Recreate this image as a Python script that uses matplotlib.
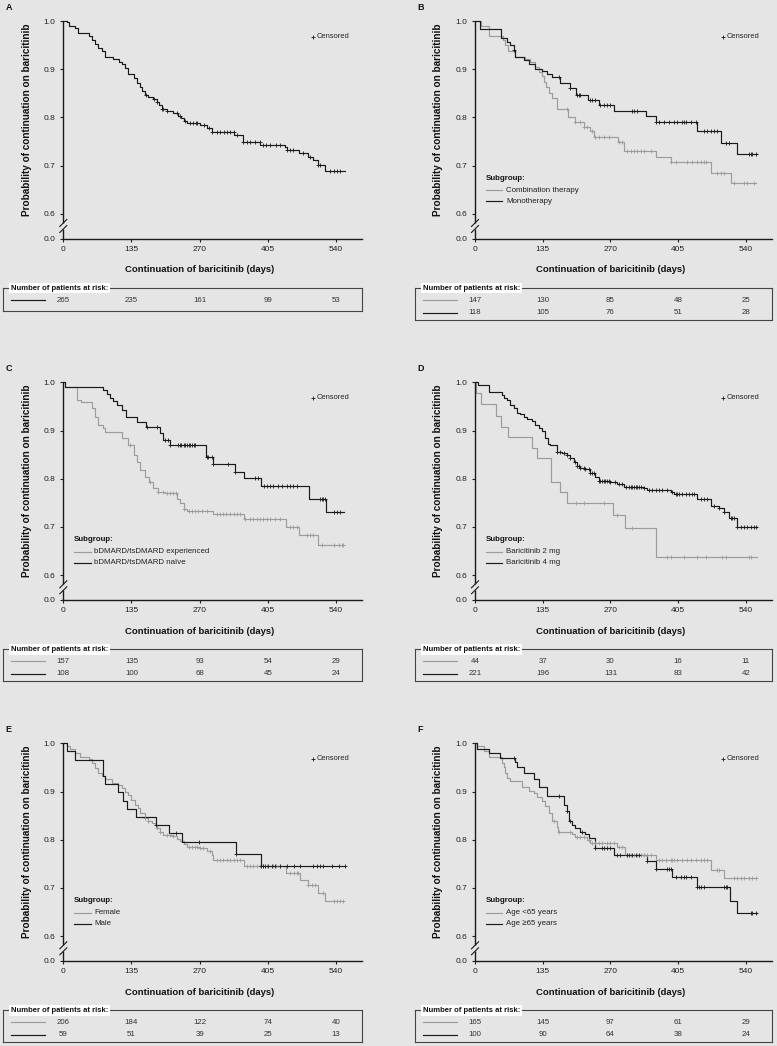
import numpy as np
import matplotlib
matplotlib.use('Agg')
import matplotlib.pyplot as plt
from matplotlib.transforms import blended_transform_factory as blend

plt.rcParams['font.family'] = ['Liberation Sans', 'DejaVu Sans']

# ---------------- data ----------------
xticks = [0, 135, 270, 405, 540]
ytick_vals = [0.6, 0.7, 0.8, 0.9, 1.0]
ytick_labels = ['0.0', '0.6', '0.7', '0.8', '0.9', '1.0']

# Panel A: overall
a_t = [0, 8, 12, 23, 30, 50, 56, 63, 69, 76, 83, 98, 111, 116, 122, 129, 140, 145, 151, 155,
       162, 168, 178, 185, 190, 195, 205, 218, 228, 234, 239, 244, 271, 284, 295, 338, 356, 390,
       439, 442, 467, 485, 495, 505, 518]
a_s = [1.0, 0.997, 0.990, 0.985, 0.975, 0.968, 0.961, 0.952, 0.943, 0.937, 0.925, 0.921, 0.916,
       0.910, 0.902, 0.890, 0.881, 0.871, 0.864, 0.855, 0.847, 0.843, 0.839, 0.832, 0.825, 0.818,
       0.814, 0.809, 0.804, 0.799, 0.793, 0.788, 0.785, 0.779, 0.769, 0.764, 0.750, 0.743, 0.738,
       0.733, 0.726, 0.717, 0.712, 0.702, 0.690]
a_end = 558
a_cens = [164, 180, 185, 195, 198, 205, 225, 232, 240, 250, 256, 262, 265, 278, 288, 295, 305,
          311, 318, 324, 330, 337, 343, 356, 363, 369, 379, 389, 396, 402, 409, 422, 429, 442,
          448, 455, 475, 488, 505, 508, 528, 535, 541, 548]
a_risk = [265, 235, 161, 99, 53]

# Panel B: combination therapy (grey) / monotherapy (black)
b_comb_t = [0, 12, 27, 55, 60, 65, 80, 100, 110, 120, 127, 133, 138, 142, 147, 153, 163, 185,
            200, 217, 230, 238, 285, 297, 360, 390, 470, 510]
b_comb_s = [1.0, 0.990, 0.968, 0.961, 0.950, 0.937, 0.926, 0.921, 0.916, 0.905, 0.895, 0.885,
            0.874, 0.864, 0.850, 0.840, 0.818, 0.800, 0.791, 0.781, 0.771, 0.760, 0.749, 0.731,
            0.717, 0.707, 0.685, 0.664]
b_comb_end = 560
b_comb_cens = [183, 200, 210, 217, 223, 233, 240, 247, 257, 267, 287, 293, 303, 310, 317, 323,
               330, 337, 350, 390, 400, 423, 433, 443, 450, 457, 460, 483, 490, 497, 517, 537,
               543, 557]
b_mono_t = [0, 10, 51, 63, 70, 77, 80, 97, 107, 120, 133, 143, 153, 170, 190, 202, 225, 247,
            277, 340, 360, 443, 490, 523]
b_mono_s = [1.0, 0.983, 0.965, 0.957, 0.950, 0.940, 0.926, 0.919, 0.910, 0.901, 0.896, 0.890,
            0.883, 0.871, 0.862, 0.847, 0.836, 0.826, 0.814, 0.803, 0.791, 0.771, 0.748, 0.724]
b_mono_end = 562
b_mono_cens = [77, 167, 190, 203, 207, 210, 229, 233, 240, 250, 257, 263, 270, 313, 317, 323,
               360, 367, 377, 387, 397, 403, 413, 417, 420, 430, 440, 457, 463, 470, 477, 483,
               500, 507, 547, 550, 553, 560]
b_labels = ['Combination therapy', 'Monotherapy']
b_risk_comb = [147, 130, 85, 48, 25]
b_risk_mono = [118, 105, 76, 51, 28]

# Panel C: bDMARD/tsDMARD experienced (grey) / naive (black)
c_exp_t = [0, 3, 27, 36, 56, 63, 69, 79, 83, 116, 129, 139, 145, 152, 162, 170, 178, 188, 202,
           225, 231, 238, 244, 297, 357, 441, 467, 505]
c_exp_s = [1.0, 0.990, 0.963, 0.960, 0.946, 0.929, 0.911, 0.905, 0.896, 0.884, 0.870, 0.849,
           0.835, 0.818, 0.804, 0.794, 0.780, 0.773, 0.770, 0.759, 0.749, 0.738, 0.733, 0.726,
           0.716, 0.700, 0.683, 0.662]
c_exp_end = 556
c_exp_cens = [132, 172, 188, 198, 205, 211, 218, 224, 238, 248, 254, 261, 267, 274, 284, 304,
              310, 317, 323, 330, 337, 343, 350, 360, 370, 376, 383, 390, 396, 403, 409, 419,
              429, 449, 455, 462, 482, 488, 495, 512, 535, 545, 551, 554]
c_nai_t = [0, 3, 79, 86, 92, 99, 106, 116, 125, 145, 164, 191, 198, 211, 283, 297, 340, 358,
           391, 487, 520]
c_nai_s = [1.0, 0.990, 0.984, 0.975, 0.968, 0.961, 0.953, 0.943, 0.929, 0.918, 0.908, 0.894,
           0.880, 0.870, 0.846, 0.830, 0.815, 0.801, 0.785, 0.759, 0.731]
c_nai_end = 556
c_nai_cens = [165, 185, 201, 208, 211, 228, 231, 234, 238, 241, 244, 248, 251, 254, 258, 261,
              284, 287, 294, 297, 327, 340, 380, 386, 397, 403, 409, 416, 426, 434, 442, 449,
              455, 463, 508, 512, 515, 518, 535, 541, 548]
c_labels = ['bDMARD/tsDMARD experienced', 'bDMARD/tsDMARD na\u00efve']
c_risk_exp = [157, 135, 93, 54, 29]
c_risk_nai = [108, 100, 68, 45, 24]

# Panel D: baricitinib 2 mg (grey) / 4 mg (black)
d_2_t = [0, 2, 11, 42, 51, 65, 113, 123, 152, 169, 183, 275, 298, 360]
d_2_s = [1.0, 0.977, 0.954, 0.931, 0.908, 0.886, 0.864, 0.842, 0.794, 0.773, 0.750, 0.725,
         0.698, 0.637]
d_2_end = 562
d_2_cens = [202, 217, 257, 283, 313, 383, 390, 417, 443, 460, 493, 500, 547, 550]
d_4_t = [0, 5, 27, 53, 57, 63, 70, 77, 83, 90, 97, 103, 113, 120, 127, 133, 140, 145, 150, 163,
         173, 183, 190, 197, 203, 210, 220, 230, 240, 247, 270, 283, 297, 337, 343, 390, 397,
         443, 450, 470, 487, 497, 507, 523]
d_4_s = [1.0, 0.995, 0.979, 0.974, 0.968, 0.963, 0.953, 0.946, 0.936, 0.934, 0.929, 0.923,
         0.920, 0.911, 0.905, 0.898, 0.884, 0.873, 0.869, 0.856, 0.853, 0.849, 0.842, 0.834,
         0.827, 0.823, 0.820, 0.811, 0.804, 0.795, 0.794, 0.790, 0.783, 0.781, 0.776, 0.773,
         0.769, 0.759, 0.757, 0.743, 0.740, 0.732, 0.718, 0.700]
d_4_end = 562
d_4_cens = [163, 170, 177, 183, 190, 200, 203, 207, 210, 217, 220, 227, 230, 233, 237, 247, 250,
            253, 257, 260, 263, 267, 270, 280, 287, 293, 300, 307, 310, 313, 317, 320, 323, 327,
            330, 337, 347, 353, 360, 367, 373, 383, 393, 400, 403, 407, 413, 420, 427, 433, 437,
            450, 457, 463, 477, 487, 497, 510, 513, 517, 523, 530, 537, 543, 550, 557, 560]
d_labels = ['Baricitinib 2 mg', 'Baricitinib 4 mg']
d_risk_2 = [44, 37, 30, 16, 11]
d_risk_4 = [221, 196, 131, 83, 42]

# Panel E: female (grey) / male (black)
e_f_t = [0, 7, 13, 23, 33, 50, 56, 63, 69, 76, 83, 96, 109, 116, 122, 129, 135, 142, 147, 152,
         162, 168, 175, 182, 185, 192, 198, 215, 225, 231, 238, 244, 271, 284, 294, 297, 358,
         441, 469, 485, 505, 518]
e_f_s = [1.0, 0.994, 0.989, 0.980, 0.971, 0.968, 0.959, 0.949, 0.938, 0.932, 0.925, 0.918,
         0.914, 0.907, 0.900, 0.892, 0.883, 0.873, 0.866, 0.855, 0.845, 0.839, 0.835, 0.830,
         0.824, 0.817, 0.809, 0.807, 0.802, 0.797, 0.791, 0.786, 0.783, 0.776, 0.768, 0.759,
         0.745, 0.731, 0.717, 0.707, 0.689, 0.672]
e_f_end = 554
e_f_cens = [162, 168, 185, 192, 205, 211, 218, 248, 254, 261, 264, 271, 277, 291, 304, 310, 317,
            324, 330, 337, 343, 350, 363, 370, 376, 383, 390, 396, 403, 416, 422, 429, 449, 456,
            462, 465, 485, 492, 498, 515, 535, 541, 548, 554]
e_m_t = [0, 7, 24, 79, 83, 108, 118, 126, 144, 184, 210, 236, 341, 391]
e_m_s = [1.0, 0.983, 0.966, 0.932, 0.915, 0.898, 0.881, 0.864, 0.847, 0.830, 0.813, 0.795,
         0.771, 0.745]
e_m_end = 558
e_m_cens = [184, 223, 269, 342, 392, 396, 400, 406, 413, 419, 429, 442, 456, 469, 495, 502, 509,
            515, 532, 545, 558]
e_labels = ['Female', 'Male']
e_risk_f = [206, 184, 122, 74, 40]
e_risk_m = [59, 51, 39, 25, 13]

# Panel F: age <65 (grey) / >=65 (black)
f_y_t = [0, 3, 17, 27, 53, 57, 60, 63, 69, 93, 107, 117, 123, 133, 140, 147, 153, 163, 165, 193,
         200, 223, 230, 283, 298, 360, 470, 497]
f_y_s = [1.0, 0.994, 0.983, 0.971, 0.959, 0.951, 0.939, 0.929, 0.921, 0.909, 0.902, 0.897,
         0.888, 0.880, 0.871, 0.855, 0.838, 0.826, 0.817, 0.811, 0.805, 0.800, 0.793, 0.786,
         0.769, 0.757, 0.738, 0.720]
f_y_end = 560
f_y_cens = [157, 167, 190, 203, 210, 217, 227, 233, 240, 247, 253, 263, 270, 277, 287, 293, 303,
            310, 317, 323, 330, 337, 343, 350, 367, 373, 380, 390, 393, 397, 403, 413, 423, 430,
            440, 450, 457, 463, 483, 487, 517, 523, 530, 537, 547, 553, 560]
f_o_t = [0, 3, 27, 49, 80, 83, 97, 117, 127, 143, 177, 183, 187, 193, 200, 210, 220, 227, 240,
         277, 342, 360, 393, 443, 509, 523]
f_o_s = [1.0, 0.989, 0.980, 0.969, 0.961, 0.950, 0.939, 0.927, 0.909, 0.890, 0.873, 0.859,
         0.838, 0.830, 0.824, 0.816, 0.811, 0.804, 0.783, 0.769, 0.755, 0.739, 0.722, 0.701,
         0.673, 0.648]
f_o_end = 563
f_o_cens = [77, 167, 183, 190, 213, 240, 253, 257, 263, 270, 283, 290, 303, 307, 313, 320, 327,
            342, 360, 383, 387, 390, 400, 410, 417, 420, 430, 443, 447, 450, 457, 497, 500, 503,
            550, 553, 560]
f_labels = ['Age <65 years', 'Age \u226565 years']
f_risk_y = [165, 145, 97, 61, 29]
f_risk_o = [100, 90, 64, 38, 24]

# ---------------- styling ----------------
FW, FH = 777, 1046
BG = '#e5e5e5'
GREY = '#9c9c9c'
BLACK = '#1a1a1a'
XMAX = 592
Y0 = 0.549
AX_H = 217.5

fig = plt.figure(figsize=(FW / 100, FH / 100), dpi=100)
fig.patch.set_facecolor(BG)


def draw_km(ax, t, s, end, cens, color):
    tt = list(t) + [end]
    ss = list(s) + [s[-1]]
    ax.step(tt, ss, where='post', color=color, lw=0.85, clip_on=False, zorder=3)
    idx = np.searchsorted(np.asarray(t), np.asarray(cens), side='right') - 1
    cy = np.asarray(s)[idx]
    ax.plot(cens, cy, ls='none', marker='+', ms=3.0, mew=0.6, color=color,
            clip_on=False, zorder=4)


def make_panel(letter, left, top, width, series, legend_labels, risk_rows):
    ax = fig.add_axes([left / FW, 1 - (top + AX_H) / FH, width / FW, AX_H / FH])
    ax.set_facecolor('none')
    ax.set_xlim(0, XMAX)
    ax.set_ylim(Y0, 1.0)
    ax.set_xticks(xticks)
    ax.set_xticklabels([str(v) for v in xticks])
    ax.set_yticks([Y0] + ytick_vals)
    ax.set_yticklabels(ytick_labels)
    for sp in ['top', 'right', 'left']:
        ax.spines[sp].set_visible(False)
    ax.spines['bottom'].set_linewidth(1.0)
    ax.spines['bottom'].set_color(BLACK)
    ax.tick_params(direction='out', length=2.5, width=0.8, labelsize=6, pad=3,
                   colors='#222222')

    # broken left axis
    px_y = (1.0 - Y0) / AX_H
    yb = Y0 + 12.5 * px_y
    gap = 3.0 * px_y
    ax.plot([0, 0], [1.0, yb + gap], color=BLACK, lw=1.0, clip_on=False, zorder=5,
            solid_capstyle='butt')
    ax.plot([0, 0], [yb - gap, Y0], color=BLACK, lw=1.0, clip_on=False, zorder=5,
            solid_capstyle='butt')
    tr_pts = blend(ax.transAxes, ax.transData)
    px_x = 1.0 / width
    for dy in (-gap, gap):
        ax.plot([-3.5 * px_x, 3.5 * px_x], [yb + dy - 3.5 * px_y, yb + dy + 3.5 * px_y],
                transform=tr_pts, color=BLACK, lw=0.8, clip_on=False, zorder=6)

    for (t, s, end, cens, color) in series:
        draw_km(ax, t, s, end, cens, color)

    # axis labels
    ax.text(-36.6 / width, 0.795, 'Probability of continuation on baricitinib',
            transform=tr_pts, rotation=90, ha='center', va='center', fontsize=7.2,
            fontweight='bold', color='#111111')
    ax.text(270, -31.5 / AX_H, 'Continuation of baricitinib (days)',
            transform=blend(ax.transData, ax.transAxes), ha='center', va='center',
            fontsize=6.8, fontweight='bold', color='#111111')

    # censored legend
    ax.plot([0.834], [0.928], transform=ax.transAxes, marker='+', ms=3.0, mew=0.6,
            color=BLACK, ls='none', clip_on=False)
    ax.text(0.847, 0.928, 'Censored', transform=ax.transAxes, ha='left', va='center',
            fontsize=5.4, color='#222222')

    # subgroup legend
    if legend_labels:
        ax.text(0.036, 0.277, 'Subgroup:', transform=ax.transAxes, ha='left', va='center',
                fontsize=5.7, fontweight='bold', color='#111111')
        for lab, yy, col in zip(legend_labels, [0.222, 0.171], [GREY, BLACK]):
            ax.plot([0.037, 0.092], [yy, yy], transform=ax.transAxes, color=col, lw=0.85,
                    clip_on=False)
            ax.text(0.104, yy, lab, transform=ax.transAxes, ha='left', va='center',
                    fontsize=5.7, color='#222222')

    # panel letter
    fig.text((left - 58) / FW, 1 - (top - 13.5) / FH, letter, fontsize=6.5,
             fontweight='bold', ha='left', va='center', color='#111111')

    # risk table
    box_l = left - 60.3
    box_r = left + width
    box_t = top + 267
    box_h = 23 if len(risk_rows) == 1 else 31.5
    tax = fig.add_axes([box_l / FW, 1 - (box_t + box_h) / FH, (box_r - box_l) / FW, box_h / FH])
    tax.set_facecolor('none')
    tax.set_xticks([])
    tax.set_yticks([])
    for sp in tax.spines.values():
        sp.set_linewidth(0.8)
        sp.set_color('#444444')
    bw = box_r - box_l
    tax.text(8 / bw, 1.0, 'Number of patients at risk:', transform=tax.transAxes,
             ha='left', va='center', fontsize=5.5, fontweight='bold', color='#111111',
             bbox=dict(boxstyle='square,pad=0.25', fc='white', ec='none'))
    tr_tab = blend(ax.transData, tax.transAxes)
    row_offsets = [12, 24.5]
    for (counts, col), off in zip(risk_rows, row_offsets):
        yy = 1 - off / box_h
        tax.plot([8 / bw, 42 / bw], [yy, yy], transform=tax.transAxes, color=col, lw=0.85)
        for xv, n in zip(xticks, counts):
            tax.text(xv, yy, str(n), transform=tr_tab, ha='center', va='center',
                     fontsize=5.7, color='#333333')
    return ax


LX, RX = 63.3, 475
WL, WR = 299, 297
T1, T2, T3 = 21, 382.3, 743.3

make_panel('A', LX, T1, WL, [(a_t, a_s, a_end, a_cens, BLACK)], None,
           [(a_risk, BLACK)])
make_panel('B', RX, T1, WR,
           [(b_comb_t, b_comb_s, b_comb_end, b_comb_cens, GREY),
            (b_mono_t, b_mono_s, b_mono_end, b_mono_cens, BLACK)], b_labels,
           [(b_risk_comb, GREY), (b_risk_mono, BLACK)])
make_panel('C', LX, T2, WL,
           [(c_exp_t, c_exp_s, c_exp_end, c_exp_cens, GREY),
            (c_nai_t, c_nai_s, c_nai_end, c_nai_cens, BLACK)], c_labels,
           [(c_risk_exp, GREY), (c_risk_nai, BLACK)])
make_panel('D', RX, T2, WR,
           [(d_2_t, d_2_s, d_2_end, d_2_cens, GREY),
            (d_4_t, d_4_s, d_4_end, d_4_cens, BLACK)], d_labels,
           [(d_risk_2, GREY), (d_risk_4, BLACK)])
make_panel('E', LX, T3, WL,
           [(e_f_t, e_f_s, e_f_end, e_f_cens, GREY),
            (e_m_t, e_m_s, e_m_end, e_m_cens, BLACK)], e_labels,
           [(e_risk_f, GREY), (e_risk_m, BLACK)])
make_panel('F', RX, T3, WR,
           [(f_y_t, f_y_s, f_y_end, f_y_cens, GREY),
            (f_o_t, f_o_s, f_o_end, f_o_cens, BLACK)], f_labels,
           [(f_risk_y, GREY), (f_risk_o, BLACK)])

fig.savefig('out.png', dpi=100, facecolor=BG)
